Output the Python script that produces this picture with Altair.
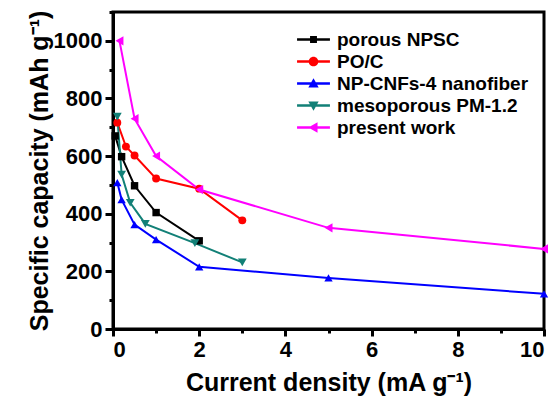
import altair as alt
import pandas as pd

series = ["porous NPSC", "PO/C", "NP-CNFs-4 nanofiber", "mesoporous PM-1.2", "present work"]
colors = ["#000000", "#ff0000", "#0000ff", "#128077", "#ff00ff"]
shapes = ["square", "circle", "triangle-up", "triangle-down", "triangle-left"]
sizes = [55, 85, 100, 110, 110]

x_npsc = [0.05, 0.2, 0.5, 1, 2]
y_npsc = [670, 598, 497, 404, 306]
x_poc = [0.1, 0.3, 0.5, 1, 2, 3]
y_poc = [716, 633, 602, 522, 487, 377]
x_cnf = [0.1, 0.2, 0.5, 1, 2, 5, 10]
y_cnf = [508, 449, 362, 310, 216, 177, 122]
x_pm = [0.1, 0.2, 0.4, 0.75, 1.9, 3]
y_pm = [737, 536, 438, 365, 298, 231]
x_pw = [0.15, 0.5, 1, 2, 5, 10]
y_pw = [1000, 730, 600, 484, 351, 278]

x_ticks = list(range(0, 11))
y_ticks = list(range(0, 1101, 100))

rows = []
for name, xs, ys in zip(series, [x_npsc, x_poc, x_cnf, x_pm, x_pw],
                        [y_npsc, y_poc, y_cnf, y_pm, y_pw]):
    for i, (xv, yv) in enumerate(zip(xs, ys)):
        rows.append({"series": name, "x": xv, "y": yv, "order": i})
df = pd.DataFrame(rows)

# legend symbols: line segment + marker (custom paths)
seg = "M-1.43,-0.1H1.43V0.1H-1.43Z"
legend_paths = [
    seg + "M-0.3,-0.3H0.3V0.3H-0.3Z",
    seg + "M-0.42,0A0.42,0.42 0 1,1 0.42,0A0.42,0.42 0 1,1 -0.42,0Z",
    seg + "M0,-0.45L0.45,0.35L-0.45,0.35Z",
    seg + "M0,0.45L-0.45,-0.35L0.45,-0.35Z",
    seg + "M-0.45,0L0.35,-0.45L0.35,0.45Z",
]

x_enc = alt.X("x:Q", scale=alt.Scale(domain=[0, 10], nice=False),
              axis=alt.Axis(values=x_ticks, title="Current density (mA g⁻¹)",
                            labelExpr="datum.value % 2 === 0 ? datum.label : ''",
                            tickSize={"condition": {"test": "datum.value % 2 === 0", "value": 7}, "value": 4},
                            labelPadding=3, titlePadding=10, grid=False))
y_enc = alt.Y("y:Q", scale=alt.Scale(domain=[0, 1100], nice=False),
              axis=alt.Axis(values=y_ticks, format="d", title="Specific capacity (mAh g⁻¹)",
                            labelExpr="datum.value % 200 === 0 ? datum.label : ''",
                            tickSize={"condition": {"test": "datum.value % 200 === 0", "value": 8}, "value": 4},
                            labelPadding=3, titlePadding=1, grid=False))

color_scale = alt.Scale(domain=series, range=colors)

lines = alt.Chart(df).mark_line(strokeWidth=2).encode(
    x=x_enc, y=y_enc,
    color=alt.Color("series:N", scale=color_scale, legend=None),
    order=alt.Order("order:Q"),
)

points = alt.Chart(df).mark_point(filled=True, opacity=1).encode(
    x=x_enc, y=y_enc,
    color=alt.Color("series:N", scale=color_scale, legend=None),
    shape=alt.Shape("series:N", scale=alt.Scale(domain=series, range=shapes), legend=None),
    size=alt.Size("series:N", scale=alt.Scale(domain=series, range=sizes), legend=None),
)

leg = dict(title=None, orient="none", legendX=189, legendY=16, labelOffset=12,
           rowPadding=0, padding=0, symbolStrokeWidth=0, symbolSize=529, labelLimit=400)
legend_layer = alt.Chart(df).mark_point(filled=True, opacity=1, size=529).transform_filter(
    "false").encode(
    x=x_enc, y=y_enc,
    color=alt.Color("series:N", scale=color_scale, legend=alt.Legend(**leg)),
    shape=alt.Shape("series:N", scale=alt.Scale(domain=series, range=legend_paths),
                    legend=alt.Legend(**leg)),
)

chart = alt.layer(lines, points, legend_layer).resolve_scale(
    color="independent", shape="independent", size="independent"
).properties(
    width=431, height=317,
    autosize=alt.AutoSizeParams(type="none"),
    padding={"left": 113, "top": 12, "right": 16, "bottom": 73},
    background="white",
).configure_view(
    stroke="black", strokeWidth=3
).configure_axis(
    labelFont="Liberation Sans", labelFontWeight="bold", labelFontSize=22, labelColor="black",
    titleFont="Liberation Sans", titleFontWeight="bold", titleFontSize=25, titleColor="black",
    domainColor="black", domainWidth=3, tickColor="black", tickWidth=3,
).configure_legend(
    labelFont="Liberation Sans", labelFontWeight="bold", labelFontSize=19, labelColor="black",
)

chart.save("out.html", embed_options={"renderer": "svg", "actions": False})
